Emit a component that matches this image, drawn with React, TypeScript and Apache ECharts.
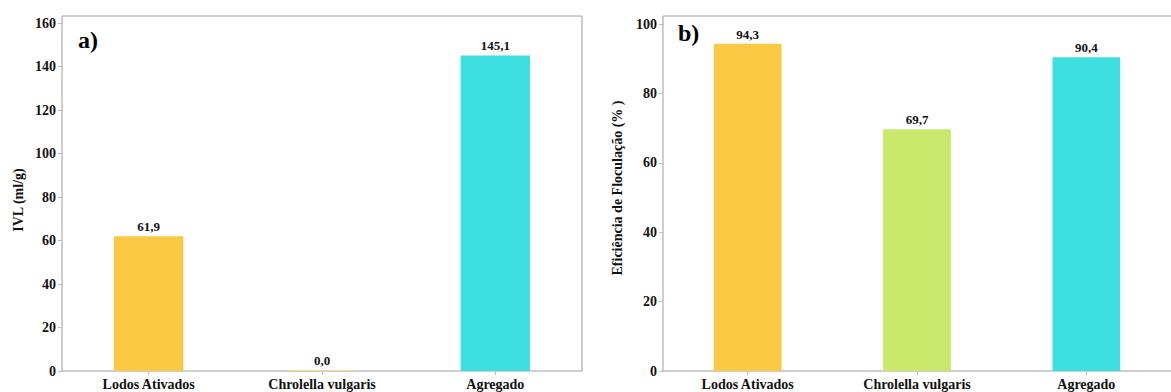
import React, { useEffect, useRef } from "react";
import * as echarts from "echarts";

const categories = ["Lodos Ativados", "Chrolella vulgaris", "Agregado"];
const ivlValues = [61.9, 0.0, 145.1];
const efficiencyValues = [94.3, 69.7, 90.4];
const barColors = ["#FBC943", "#CAE86B", "#3DDFE0"];
const ivlZeroColor = "#F5D98A";
const panelLetters = ["a)", "b)"];
const axisTitles = ["IVL (ml/g)", "Eficiência de Floculação (% )"];

const FONT = "serif";
const frameColor = "#BEBEBE";
const fmt = (v: number) => v.toFixed(1).replace(".", ",");

export default function App() {
  const ref = useRef<HTMLDivElement>(null);
  useEffect(() => {
    if (!ref.current) return;
    const chart = echarts.init(ref.current, undefined, { renderer: "svg" });
    const yAxisCommon = {
      type: "value" as const,
      min: 0,
      interval: 20,
      splitLine: { show: false },
      axisLine: { show: true, lineStyle: { color: frameColor, width: 1.5 } },
      axisTick: { show: true, length: 4, lineStyle: { color: frameColor } },
      axisLabel: { color: "#111", fontFamily: FONT, fontWeight: "bold", fontSize: 14, margin: 6 },
    };
    const xAxisCommon = {
      type: "category" as const,
      data: categories,
      axisLine: { show: true, lineStyle: { color: frameColor, width: 1.5 } },
      axisTick: { show: true, alignWithLabel: true, length: 4, lineStyle: { color: frameColor } },
      axisLabel: { color: "#111", fontFamily: FONT, fontWeight: "bold", fontSize: 14, margin: 6 },
    };
    const labelCommon = {
      show: true,
      position: "top" as const,
      distance: 3,
      color: "#111",
      fontFamily: FONT,
      fontWeight: "bold" as const,
      fontSize: 13,
      formatter: (p: any) => fmt(p.value),
    };
    chart.setOption({
      animation: false,
      backgroundColor: "#fff",
      textStyle: { fontFamily: FONT },
      grid: [
        { left: 62, top: 23, right: 589, bottom: 21 },
        { left: 663, top: 24, right: -11, bottom: 21 },
      ],
      xAxis: [
        { ...xAxisCommon, gridIndex: 0 },
        { ...xAxisCommon, gridIndex: 1 },
      ],
      yAxis: [
        { ...yAxisCommon, gridIndex: 0, max: 160 },
        { ...yAxisCommon, gridIndex: 1, max: 100 },
      ],
      series: [
        {
          type: "bar",
          xAxisIndex: 0,
          yAxisIndex: 0,
          barWidth: "40%",
          barMinHeight: 1,
          data: ivlValues.map((v, i) => ({
            value: v,
            itemStyle: { color: v === 0 ? ivlZeroColor : barColors[i] },
          })),
          label: labelCommon,
        },
        {
          type: "bar",
          xAxisIndex: 1,
          yAxisIndex: 1,
          barWidth: "40%",
          data: efficiencyValues.map((v, i) => ({ value: v, itemStyle: { color: barColors[i] } })),
          label: labelCommon,
        },
      ],
      graphic: [
        { type: "line", shape: { x1: 62, y1: 16, x2: 582, y2: 16 }, style: { stroke: frameColor, lineWidth: 1.5 } },
        { type: "line", shape: { x1: 582, y1: 16, x2: 582, y2: 371 }, style: { stroke: frameColor, lineWidth: 1.5 } },
        { type: "line", shape: { x1: 62, y1: 16, x2: 62, y2: 24 }, style: { stroke: frameColor, lineWidth: 1.5 } },
        { type: "line", shape: { x1: 663, y1: 16, x2: 1171, y2: 16 }, style: { stroke: frameColor, lineWidth: 1.5 } },
        { type: "line", shape: { x1: 663, y1: 16, x2: 663, y2: 25 }, style: { stroke: frameColor, lineWidth: 1.5 } },
        {
          type: "text",
          x: 78,
          y: 40,
          style: { text: panelLetters[0], fontFamily: FONT, fontWeight: "bold", fontSize: 24, fill: "#000", verticalAlign: "middle" },
        },
        {
          type: "text",
          x: 678,
          y: 33,
          style: { text: panelLetters[1], fontFamily: FONT, fontWeight: "bold", fontSize: 24, fill: "#000", verticalAlign: "middle" },
        },
        {
          type: "text",
          x: 18,
          y: 200,
          rotation: Math.PI / 2,
          style: { text: axisTitles[0], fontFamily: FONT, fontWeight: "bold", fontSize: 14, fill: "#111", align: "center", verticalAlign: "middle" },
        },
        {
          type: "text",
          x: 617,
          y: 188,
          rotation: Math.PI / 2,
          style: { text: axisTitles[1], fontFamily: FONT, fontWeight: "bold", fontSize: 14, fill: "#111", align: "center", verticalAlign: "middle" },
        },
      ],
    });
    return () => chart.dispose();
  }, []);
  return (
    <div
      ref={ref}
      style={{ width: 1171, height: 392, position: "absolute", left: 0, top: 0 }}
    />
  );
}
